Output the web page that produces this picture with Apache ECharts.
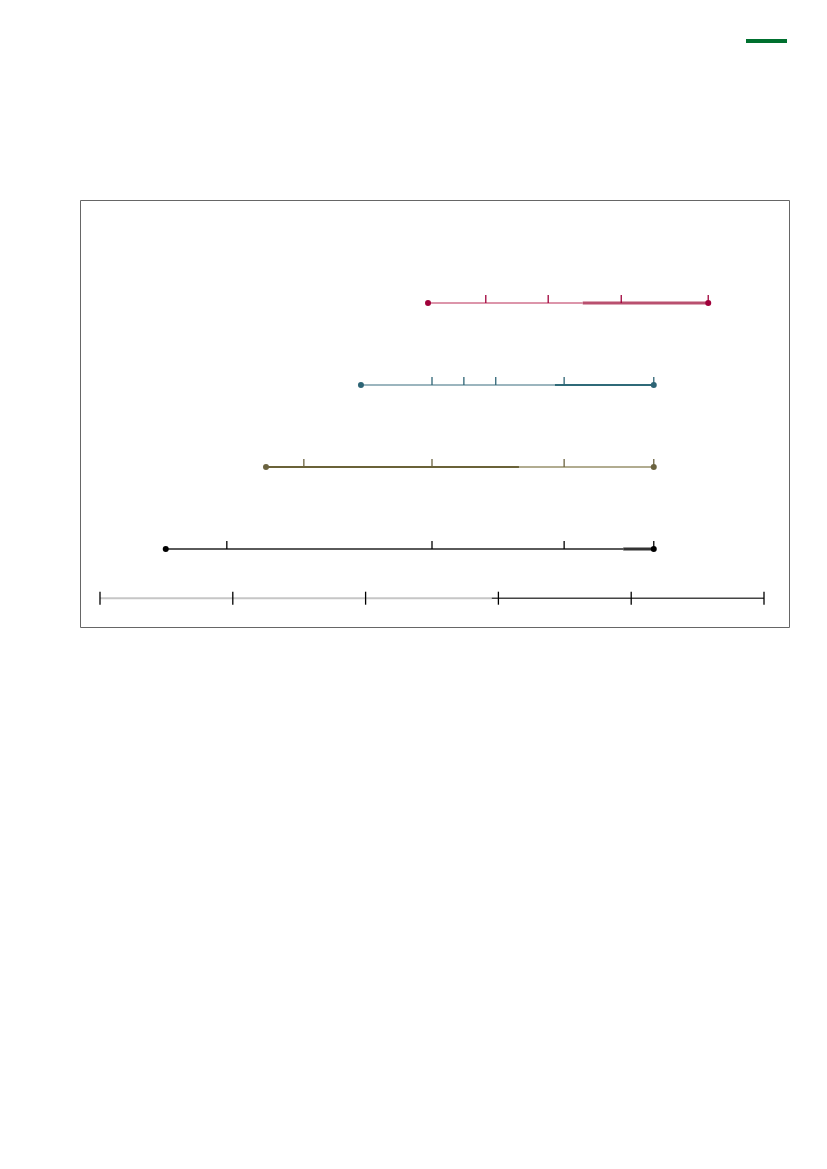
<!DOCTYPE html>
<html>
<head>
<meta charset="utf-8">
<script src="https://cdn.jsdelivr.net/npm/echarts@6/dist/echarts.min.js"></script>
<style>
html,body{margin:0;padding:0;background:#fff;}
#chart{width:827px;height:1169px;}
</style>
</head>
<body>
<div id="chart"></div>
<script>
// ---- data ----
const tlNames = ['Timeline 1', 'Timeline 2', 'Timeline 3', 'Timeline 4'];
const tlRows = [4, 3, 2, 1];
const tlStart = [49.4, 39.3, 25.0, 9.9];
const tlEnd = [91.6, 83.4, 83.4, 83.4];
const tlSplit = [72.7, 68.5, 63.1, 78.8];
const tlTicks = [
  [58.1, 67.5, 78.5, 91.6],
  [50.0, 54.8, 59.6, 69.9, 83.4],
  [30.7, 50.0, 69.9, 83.4],
  [19.1, 50.0, 69.9, 83.4]
];
const axisTicks = [0, 20, 40, 60, 80, 100];
const axisSplit = 59.0;
const axisRow = 0.4;

// ---- styles ----
const dotColors = ['#a0003a', '#2d6475', '#6b6340', '#000000'];
const firstSegColors = ['#dc95aa', '#9bb5be', '#6a6238', '#5a5a5a'];
const secondSegColors = ['#b9506f', '#2f6a78', '#b1ac90', '#333333'];
const firstSegWidths = [2, 2, 2, 2];
const secondSegWidths = [3, 2, 2, 3];
const tickColors = ['#a0003a', '#2d6475', '#6b6340', '#000000'];

const series = [];
tlNames.forEach((name, i) => {
  const y = tlRows[i];
  series.push({
    name: name + ' a', type: 'line', silent: true, showSymbol: false,
    data: [[tlStart[i], y], [tlSplit[i], y]],
    lineStyle: { color: firstSegColors[i], width: firstSegWidths[i] }, z: 2
  });
  series.push({
    name: name + ' b', type: 'line', silent: true, showSymbol: false,
    data: [[tlSplit[i], y], [tlEnd[i], y]],
    lineStyle: { color: secondSegColors[i], width: secondSegWidths[i] }, z: 2
  });
  series.push({
    name: name + ' ticks', type: 'scatter', silent: true,
    symbol: 'rect', symbolSize: [1.3, 8], symbolOffset: [0, -4],
    data: tlTicks[i].map(v => [v, y]),
    itemStyle: { color: tickColors[i], opacity: 1 }, z: 3
  });
  series.push({
    name: name + ' ends', type: 'scatter', silent: true,
    symbol: 'circle', symbolSize: 6,
    data: [[tlStart[i], y], [tlEnd[i], y]],
    itemStyle: { color: dotColors[i], opacity: 1 }, z: 4
  });
});
// bottom axis
series.push({
  name: 'axis a', type: 'line', silent: true, showSymbol: false,
  data: [[axisTicks[0], axisRow], [axisSplit, axisRow]],
  lineStyle: { color: '#c6c6c6', width: 2 }, z: 2
});
series.push({
  name: 'axis b', type: 'line', silent: true, showSymbol: false,
  data: [[axisSplit, axisRow], [axisTicks[axisTicks.length - 1], axisRow]],
  lineStyle: { color: '#444444', width: 1.5 }, z: 2
});
series.push({
  name: 'axis ticks', type: 'scatter', silent: true,
  symbol: 'rect', symbolSize: [1.3, 13],
  data: axisTicks.map(v => [v, axisRow]),
  itemStyle: { color: '#000000', opacity: 1 }, z: 3
});

const chart = echarts.init(document.getElementById('chart'), null, { renderer: 'canvas' });
chart.setOption({
  animation: false,
  backgroundColor: '#ffffff',
  grid: { left: 100, right: 63, top: 221, bottom: 538 },
  xAxis: { type: 'value', min: 0, max: 100, show: false },
  yAxis: { type: 'value', min: 0, max: 5, show: false },
  graphic: [
    { type: 'rect', shape: { x: 80.5, y: 200.5, width: 709, height: 427 },
      style: { fill: 'none', stroke: '#666666', lineWidth: 1 }, silent: true },
    { type: 'rect', shape: { x: 746, y: 39, width: 41, height: 4 },
      style: { fill: '#00702f' }, silent: true }
  ],
  series: series
});
</script>
</body>
</html>
